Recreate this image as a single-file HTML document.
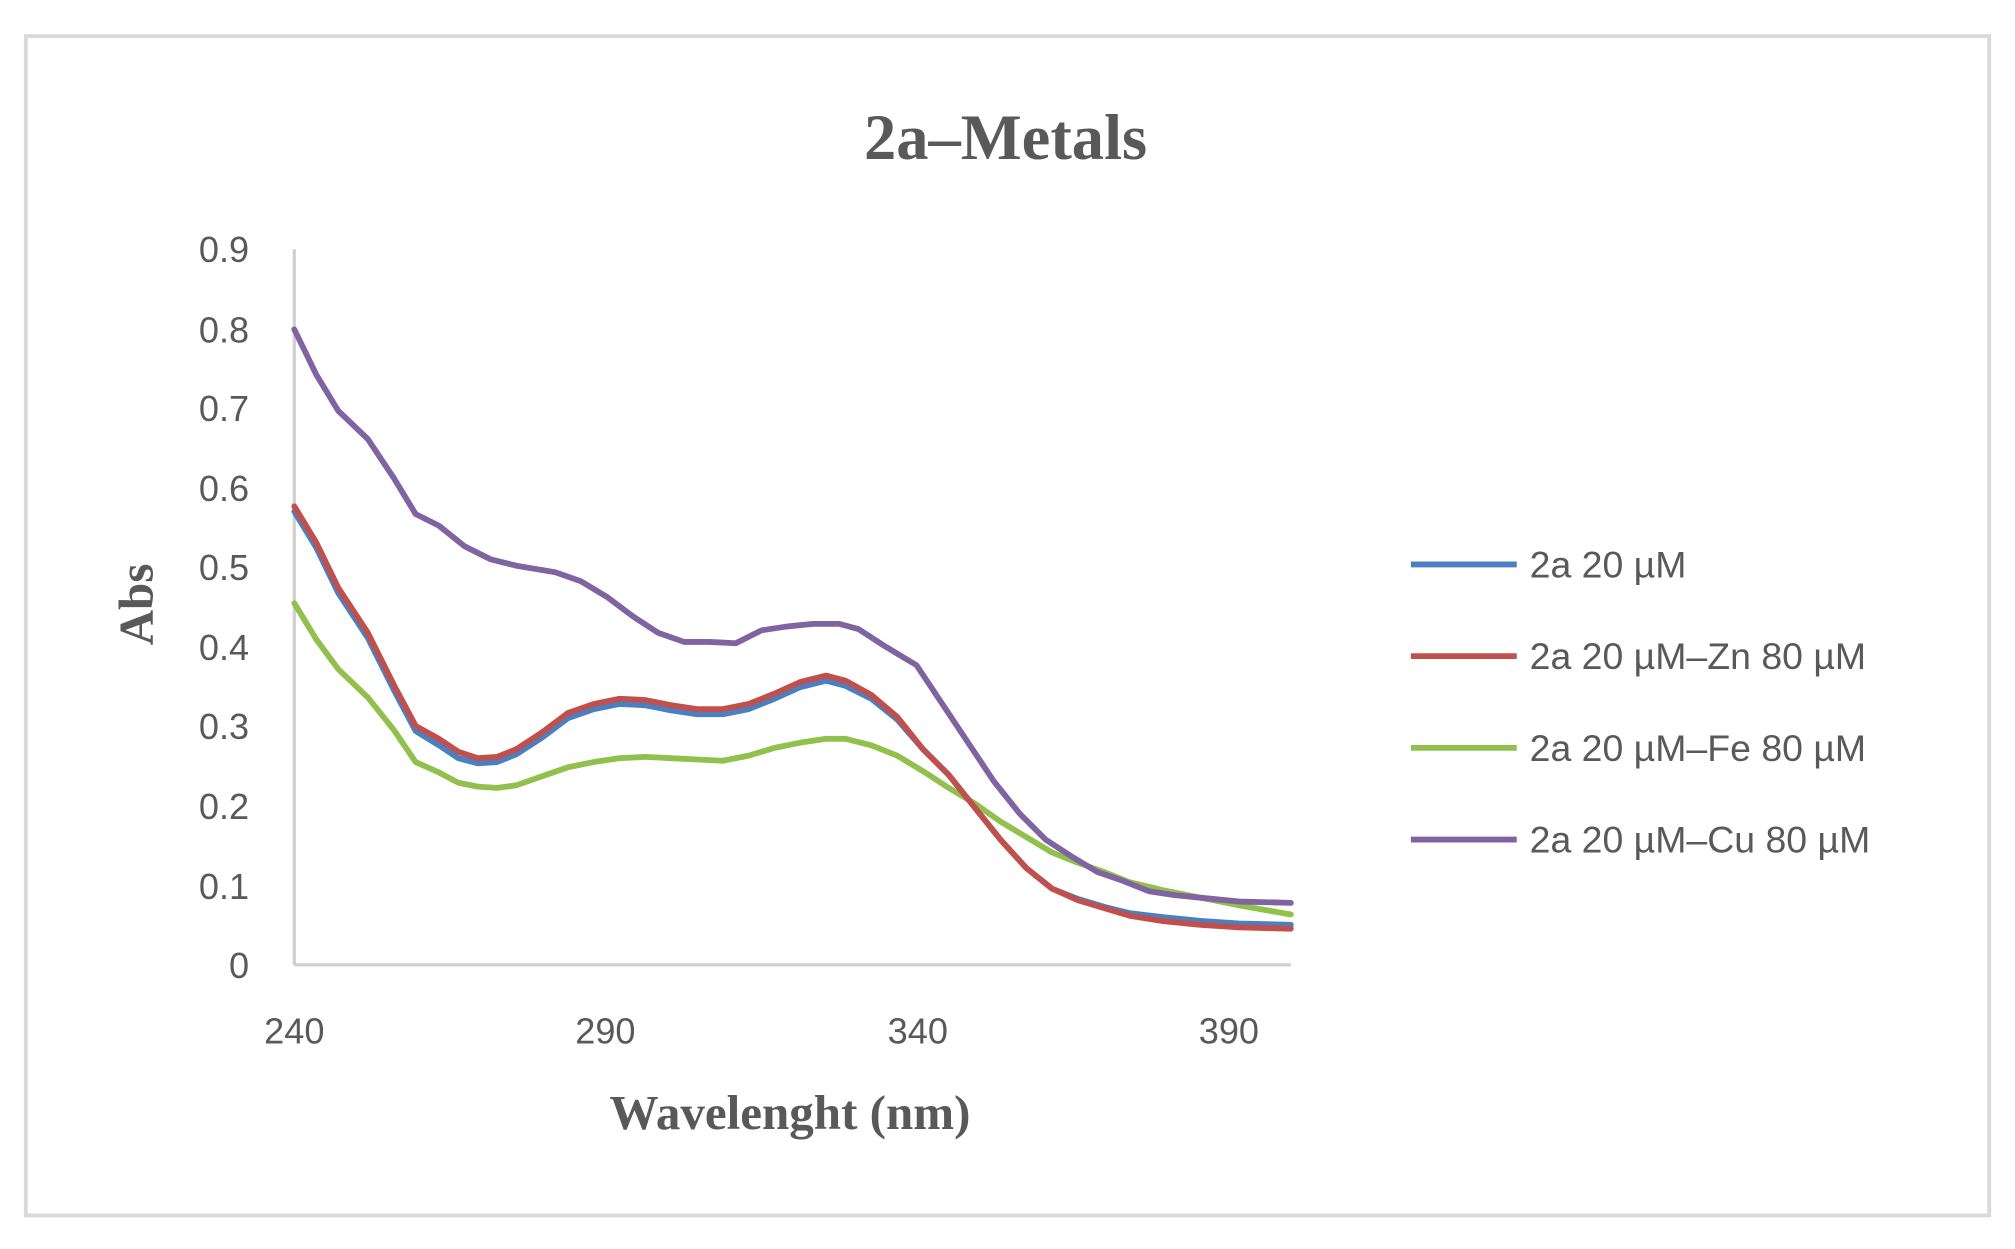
<!DOCTYPE html>
<html><head><meta charset="utf-8"><style>html,body{margin:0;padding:0;background:#fff}svg{display:block}</style></head>
<body>
<svg width="2015" height="1249" viewBox="0 0 1561 967" preserveAspectRatio="none" xmlns="http://www.w3.org/2000/svg">
<rect x="0" y="0" width="1561" height="967" fill="#fff"/>
<rect x="20" y="28" width="1521" height="913" fill="#fff" stroke="#d9d9d9" stroke-width="3"/>
<text x="779" y="123" text-anchor="middle" font-family="Liberation Serif, serif" font-weight="bold" font-size="50" fill="#595959">2a–Metals</text>
<g stroke="#d0d0d0" stroke-width="2.5"><line x1="228" y1="193" x2="228" y2="747"/><line x1="228" y1="747" x2="1000" y2="747"/></g>
<g font-family="Liberation Sans, sans-serif" font-size="28" fill="#595959" text-anchor="end">
<text x="193" y="757">0</text><text x="193" y="696">0.1</text><text x="193" y="634">0.2</text><text x="193" y="572">0.3</text><text x="193" y="511">0.4</text><text x="193" y="449">0.5</text><text x="193" y="388">0.6</text><text x="193" y="326">0.7</text><text x="193" y="265">0.8</text><text x="193" y="203">0.9</text>
</g>
<g font-family="Liberation Sans, sans-serif" font-size="28" fill="#595959" text-anchor="middle">
<text x="228" y="808">240</text><text x="469" y="808">290</text><text x="711" y="808">340</text><text x="952" y="808">390</text>
</g>
<text x="612" y="874" text-anchor="middle" font-family="Liberation Serif, serif" font-weight="bold" font-size="38" fill="#595959">Wavelenght (nm)</text>
<text transform="translate(118,468) rotate(-90)" text-anchor="middle" font-family="Liberation Serif, serif" font-weight="bold" font-size="38" fill="#595959">Abs</text>
<g fill="none" stroke-width="4.5" stroke-linejoin="round" stroke-linecap="round">
<polyline stroke="#70ad47" stroke="#8fbf4a" points="228,467 245,495 262,518 285,540 305,565 322,590 340,598 355,606 370,609 385,610 400,608 420,601 440,594 460,590 480,587 500,586 520,587 540,588 560,589 580,585 600,579 620,575 640,572 655,572 675,577 695,585 715,597 735,610 755,622 775,636 795,648 815,660 835,668 855,675 875,683 900,689 930,695 960,701 1000,708" style="stroke:#92c04c"/>
<polyline style="stroke:#4a7fc1" points="228,396 245,424 262,459 285,494 305,534 322,566 340,577 355,587 370,591 385,590 400,584 420,571 440,556 460,549 480,545 500,546 520,550 540,553 560,553 580,549 600,541 620,532 640,527 655,531 675,541 695,557 715,580 735,600 755,625 775,650 795,672 815,688 835,696 855,702 875,707 900,710 930,713 960,715 1000,716"/>
<polyline style="stroke:#c0504d" points="228,392 245,420 262,455 285,490 305,530 322,562 340,572 355,582 370,587 385,586 400,580 420,567 440,552 460,545 480,541 500,542 520,546 540,549 560,549 580,545 600,537 620,528 640,523 655,527 675,538 695,555 715,580 735,600 755,625 775,650 795,672 815,688 835,697 855,703 875,709 900,713 930,716 960,718 1000,719"/>
<polyline style="stroke:#8064a2" points="228,255 245,290 262,318 285,340 305,370 322,398 340,407 360,423 380,433 400,438 430,443 450,450 470,462 490,477 510,490 530,497 550,497 570,498 590,488 610,485 630,483 650,483 665,487 685,500 710,515 730,545 750,575 770,605 790,630 810,650 830,663 850,675 870,682 890,690 910,693 930,695 960,698 1000,699"/>
</g>
<g stroke-width="4.5">
<line x1="1093" y1="437" x2="1175" y2="437" stroke="#4a7fc1"/>
<line x1="1093" y1="508" x2="1175" y2="508" stroke="#c0504d"/>
<line x1="1093" y1="579" x2="1175" y2="579" stroke="#92c04c"/>
<line x1="1093" y1="650" x2="1175" y2="650" stroke="#8064a2"/>
</g>
<g font-family="Liberation Sans, sans-serif" font-size="29" fill="#595959">
<text x="1185" y="447">2a 20 µM</text>
<text x="1185" y="518">2a 20 µM–Zn 80 µM</text>
<text x="1185" y="589">2a 20 µM–Fe 80 µM</text>
<text x="1185" y="660">2a 20 µM–Cu 80 µM</text>
</g>
</svg>
</body></html>
